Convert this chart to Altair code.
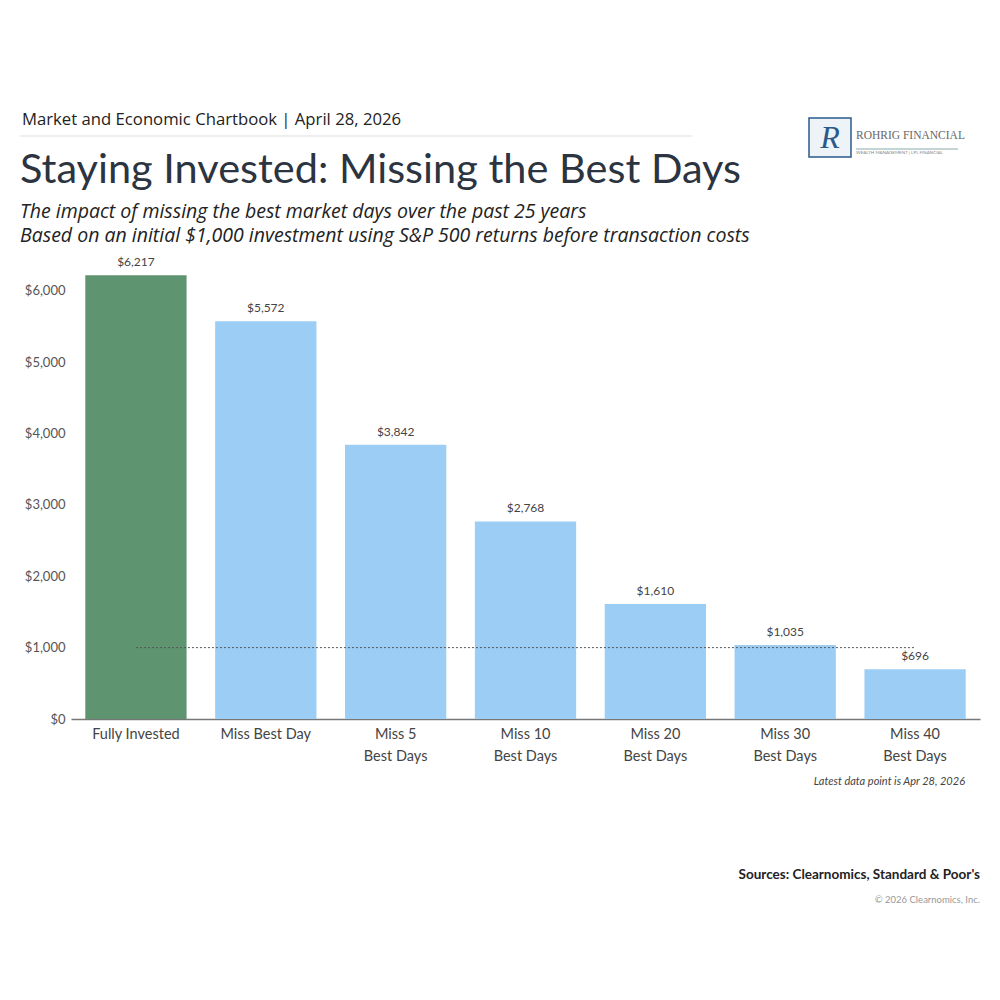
import altair as alt
import pandas as pd

categories = ["Fully Invested", "Miss Best Day", "Miss 5|Best Days", "Miss 10|Best Days",
              "Miss 20|Best Days", "Miss 30|Best Days", "Miss 40|Best Days"]
values = [6217, 5572, 3842, 2768, 1610, 1035, 696]
colors = ["#5E9570", "#9CCEF5", "#9CCEF5", "#9CCEF5", "#9CCEF5", "#9CCEF5", "#9CCEF5"]
y_ticks = [0, 1000, 2000, 3000, 4000, 5000, 6000]
initial_investment = 1000

header = "Market and Economic Chartbook | April 28, 2026"
title = "Staying Invested: Missing the Best Days"
subtitle1 = "The impact of missing the best market days over the past 25 years"
subtitle2 = "Based on an initial $1,000 investment using S&P 500 returns before transaction costs"
note = "Latest data point is Apr 28, 2026"
sources = "Sources: Clearnomics, Standard & Poor's"
copyright_txt = "© 2026 Clearnomics, Inc."

df = pd.DataFrame({"cat": categories, "value": values, "color": colors})

FONT = "Lato"
W, H = 909, 464
OX, OY = 71, 255  # plot origin on page

xscale = alt.Scale(domain=categories, paddingInner=0.22, paddingOuter=0.11)
yscale = alt.Scale(domain=[0, 6500], nice=False)

xenc = alt.X("cat:N", scale=xscale,
             axis=alt.Axis(title=None, labelExpr="split(datum.label, '|')", labelAngle=0,
                           labelFont=FONT, labelFontSize=14.5, labelColor="#444",
                           labelPadding=8, labelLineHeight=22, ticks=False,
                           domainColor="#777", domainWidth=1.5))

bars = alt.Chart(df).mark_bar().encode(
    x=xenc,
    y=alt.Y("value:Q", scale=yscale,
            axis=alt.Axis(title=None, values=y_ticks, format="$,.0f", grid=False, domain=False,
                          ticks=False, labelFont=FONT, labelFontSize=13, labelColor="#555",
                          labelPadding=6)),
    color=alt.Color("color:N", scale=None),
)

labels = alt.Chart(df).mark_text(dy=-13, font=FONT, fontSize=12, color="#444").encode(
    x=alt.X("cat:N", scale=xscale),
    y=alt.Y("value:Q", scale=yscale),
    text=alt.Text("value:Q", format="$,.0f"),
)

ref = alt.Chart(pd.DataFrame({"a": [categories[0]], "b": [categories[-1]], "v": [initial_investment]})).mark_rule(
    strokeDash=[2, 2], color="#555", strokeWidth=1
).encode(x=alt.X("a:N", scale=xscale), x2="b:N", y=alt.Y("v:Q", scale=yscale))


def txt(s, px, py, size, color="#333", italic=False, weight="normal", align="left", font=FONT):
    kw = dict(align=align, baseline="middle", font=font, fontSize=size, color=color, fontWeight=weight)
    if italic:
        kw["fontStyle"] = "italic"
    return alt.Chart(pd.DataFrame({"t": [s]})).mark_text(**kw).encode(
        text="t:N", x=alt.value(px - OX), y=alt.value(py - OY))


texts = [
    txt(header, 22, 120, 16.7, "#222", font="Open Sans"),
    txt(title, 20, 171, 41.5, "#2b3440"),
    txt(subtitle1, 20, 212, 19.5, "#222", italic=True, font="Open Sans"),
    txt(subtitle2, 20, 236, 19.5, "#222", italic=True, font="Open Sans"),
    txt(note, 965, 782, 11, "#444", italic=True, align="right"),
    txt(sources, 980, 875, 13.5, "#222", weight="bold", align="right"),
    txt(copyright_txt, 980, 900, 9.5, "#999", align="right"),
    txt("ROHRIG FINANCIAL", 856, 136, 11.5, "#666", font="Liberation Serif"),
    txt("R", 830, 138, 32, "#2a5a8c", italic=True, font="Liberation Serif", align="center"),
]

hrule = alt.Chart(pd.DataFrame({"k": [0]})).mark_rule(color="#ddd", strokeWidth=1).encode(
    x=alt.value(20 - OX), x2=alt.value(692 - OX), y=alt.value(136 - OY))
logo_box = alt.Chart(pd.DataFrame({"k": [0]})).mark_rect(fill="#eef3f8", stroke="#2a5a8c", strokeWidth=1.5).encode(
    x=alt.value(809 - OX), x2=alt.value(851 - OX), y=alt.value(118 - OY), y2=alt.value(157 - OY))
logo_line = alt.Chart(pd.DataFrame({"k": [0]})).mark_rule(color="#8aa", strokeWidth=1).encode(
    x=alt.value(856 - OX), x2=alt.value(958 - OX), y=alt.value(149 - OY))
logo_sub = txt("WEALTH MANAGEMENT  |  LPL FINANCIAL", 856, 153, 4.5, "#888")

chart = alt.layer(bars, labels, ref, hrule, logo_box, logo_line, logo_sub, *texts).properties(
    width=W, height=H,
    autosize=alt.AutoSizeParams(type="none"),
    padding={"left": OX, "top": OY, "right": 1000 - OX - W, "bottom": 1000 - OY - H},
    background="white",
).configure_view(stroke=None)

chart.save("out.html", embed_options={"renderer": "svg", "actions": False})
